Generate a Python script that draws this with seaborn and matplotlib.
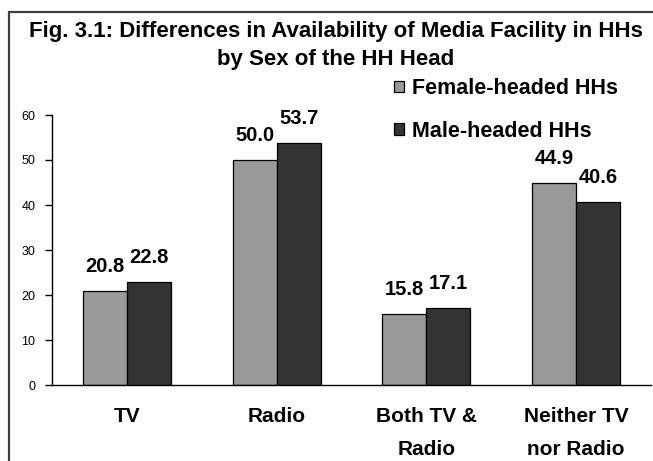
import matplotlib
matplotlib.use("Agg")
import matplotlib.pyplot as plt
import seaborn as sns
import pandas as pd
from matplotlib.patches import Rectangle

categories = ["TV", "Radio", "Both TV &\nRadio", "Neither TV\nnor Radio"]
series = ["Female-headed HHs", "Male-headed HHs"]
female = [20.8, 50.0, 15.8, 44.9]
male = [22.8, 53.7, 17.1, 40.6]
yticks = [0, 10, 20, 30, 40, 50, 60]

df = pd.DataFrame({
    "cat": categories * 2,
    "series": [series[0]] * 4 + [series[1]] * 4,
    "value": female + male,
})

sns.set_theme(style="white")
plt.rcParams["font.family"] = ["Liberation Sans", "DejaVu Sans"]
for k in ["text.color", "axes.labelcolor", "xtick.color", "ytick.color"]:
    plt.rcParams[k] = "black"

fig = plt.figure(figsize=(6.53, 4.61), dpi=100)
ax = fig.add_axes([52 / 653, 1 - 385 / 461, 599 / 653, 270 / 461])

palette = {series[0]: "#999999", series[1]: "#333333"}
sns.barplot(data=df, x="cat", y="value", hue="series", order=categories,
            hue_order=series, palette=palette, width=0.587, saturation=1,
            edgecolor="black", linewidth=0.9, ax=ax, legend=True)

for cont in ax.containers:
    ax.bar_label(cont, fmt="%.1f", padding=11, fontsize=14.5, fontweight="bold")

ax.set_ylim(0, 60)
ax.set_xlim(-0.5, 3.5)
ax.set_yticks(yticks)
ax.set_yticklabels([str(t) for t in yticks], fontsize=9)
ax.set_xticks(range(len(categories)))
ax.set_xticklabels(categories, fontsize=15, fontweight="bold", linespacing=1.9)
ax.tick_params(axis="x", which="major", length=0, pad=16)
ax.set_xticks([-0.5, 0.5, 1.5, 2.5, 3.5], minor=True)
ax.tick_params(axis="x", which="minor", length=5, width=1, color="black", direction="out")
ax.tick_params(axis="y", length=5, width=1, color="black", direction="out", left=True, pad=7)
ax.set_xlabel("")
ax.set_ylabel("")
for s in ["top", "right"]:
    ax.spines[s].set_visible(False)
for s in ["left", "bottom"]:
    ax.spines[s].set_color("black")
    ax.spines[s].set_linewidth(1)

handles, labels = ax.get_legend_handles_labels()
ax.get_legend().remove()
leg = fig.legend(handles, labels, loc="upper left", bbox_to_anchor=(394 / 653, 1 - 78 / 461),
                 frameon=False, prop={"size": 15.5, "weight": "bold"}, handlelength=0.45,
                 handleheight=0.45, handletextpad=0.4, labelspacing=1.0, borderaxespad=0,
                 borderpad=0)

fig.text(336 / 653, 1 - 31 / 461, "Fig. 3.1: Differences in Availability of Media Facility in HHs",
         ha="center", va="center", fontsize=16, fontweight="bold")
fig.text(336 / 653, 1 - 59 / 461, "by Sex of the HH Head",
         ha="center", va="center", fontsize=16, fontweight="bold")

fig.patches.append(Rectangle((9 / 653, -0.1), 2, 1 - 12 / 461 + 0.1, transform=fig.transFigure,
                             fill=False, edgecolor="#404040", linewidth=1.6))

fig.savefig("out.png", dpi=100)
